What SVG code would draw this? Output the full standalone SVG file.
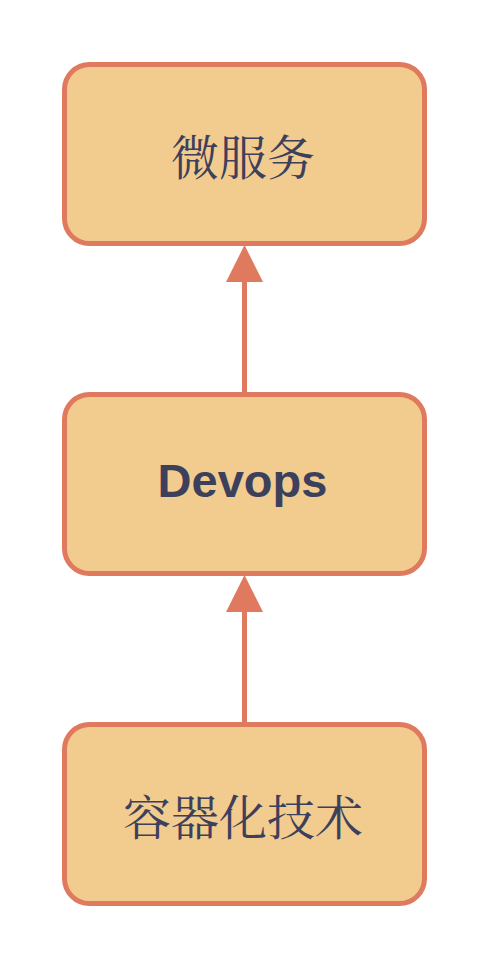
<svg xmlns="http://www.w3.org/2000/svg" width="486" height="966" viewBox="0 0 486 966">
<style>
.box{fill:#F2CC8F;stroke:#E07A5F;stroke-width:5}
.cjk{font-family:"Noto Serif CJK SC","Noto Sans CJK SC",serif;font-size:48px;fill:#3D405B;text-anchor:middle;dominant-baseline:central}
.lat{font-family:"Liberation Sans",Arial,sans-serif;font-weight:bold;font-size:47px;fill:#3D405B;text-anchor:middle}
.edge{stroke:#E07A5F;stroke-width:5;fill:none}
.head{fill:#E07A5F}
</style>
<rect width="486" height="966" fill="#FFFFFF"/>
<g id="connectors">
<line class="edge" x1="244.5" y1="392" x2="244.5" y2="270"/>
<polygon class="head" points="244.5,245 263,282 226,282"/>
<line class="edge" x1="244.5" y1="722" x2="244.5" y2="600"/>
<polygon class="head" points="244.5,575 263,612 226,612"/>
</g>
<g id="node-microservices">
<rect class="box" x="64.5" y="64.5" width="360" height="179" rx="25" ry="25"/>
<text class="cjk" x="243" y="154">微服务</text>
</g>
<g id="node-devops">
<rect class="box" x="64.5" y="394.5" width="360" height="179" rx="25" ry="25"/>
<text class="lat" x="242.5" y="497">Devops</text>
</g>
<g id="node-container">
<rect class="box" x="64.5" y="724.5" width="360" height="179" rx="25" ry="25"/>
<text class="cjk" x="243" y="814">容器化技术</text>
</g>
</svg>
